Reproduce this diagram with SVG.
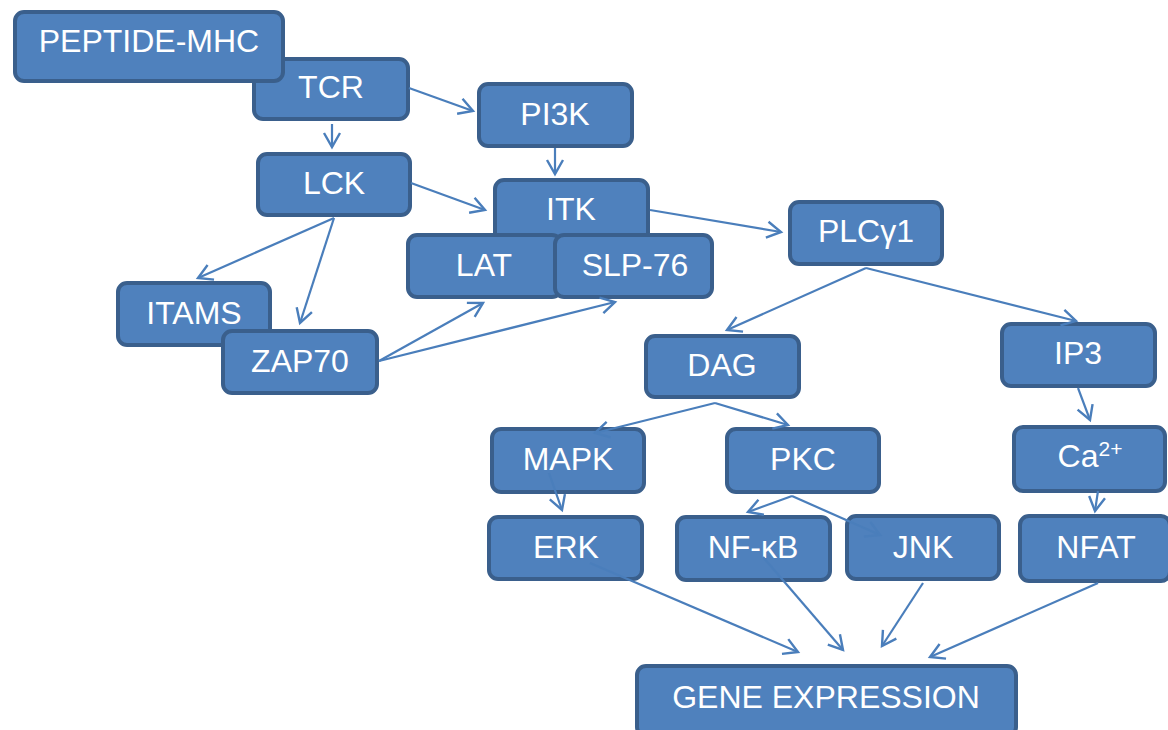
<svg xmlns="http://www.w3.org/2000/svg" width="1168" height="730" viewBox="0 0 1168 730">
<defs>
<style>
.n rect{fill:#4F81BD;stroke:#3A5F8C;stroke-width:4}
.n text{fill:#fff;font-family:"Liberation Sans",Arial,sans-serif;font-size:32px;text-anchor:middle}
.c line{stroke:#4A7EBB;stroke-width:2.2;fill:none;marker-end:url(#ah)}
</style>
<marker id="ah" markerUnits="userSpaceOnUse" markerWidth="22" markerHeight="22" viewBox="0 0 22 22" refX="16" refY="11" orient="auto">
<path d="M2,3 L16,11 L2,19" fill="none" stroke="#4A7EBB" stroke-width="2.4"/>
</marker>
</defs>
<rect width="1168" height="730" fill="#fff"/>
<g id="tcr" class="n"><rect x="254" y="59" width="154" height="60" rx="9"/><text x="331" y="98">TCR</text></g>
<g id="peptide-mhc" class="n"><rect x="15" y="12" width="268" height="69" rx="9"/><text x="149" y="52">PEPTIDE-MHC</text></g>
<g id="pi3k" class="n"><rect x="479" y="84" width="153" height="62" rx="9"/><text x="555" y="125">PI3K</text></g>
<g id="lck" class="n"><rect x="258" y="154" width="152" height="61" rx="9"/><text x="334" y="194">LCK</text></g>
<g id="itk" class="n"><rect x="495" y="180" width="153" height="63" rx="9"/><text x="571" y="220">ITK</text></g>
<g id="plcg1" class="n"><rect x="790" y="202" width="152" height="62" rx="9"/><text x="866" y="242">PLCγ1</text></g>
<g id="lat" class="n"><rect x="408" y="235" width="153" height="62" rx="9"/><text x="484" y="276">LAT</text></g>
<g id="slp-76" class="n"><rect x="555" y="235" width="157" height="62" rx="9"/><text x="635" y="276">SLP-76</text></g>
<g id="itams" class="n"><rect x="118" y="283" width="152" height="62" rx="9"/><text x="194" y="324">ITAMS</text></g>
<g id="zap70" class="n"><rect x="223" y="331" width="154" height="62" rx="9"/><text x="300" y="372">ZAP70</text></g>
<g id="dag" class="n"><rect x="646" y="336" width="153" height="61" rx="9"/><text x="722" y="376">DAG</text></g>
<g id="ip3" class="n"><rect x="1002" y="324" width="153" height="62" rx="9"/><text x="1078" y="364">IP3</text></g>
<g id="mapk" class="n"><rect x="492" y="429" width="152" height="63" rx="9"/><text x="568" y="470">MAPK</text></g>
<g id="pkc" class="n"><rect x="727" y="429" width="152" height="63" rx="9"/><text x="803" y="470">PKC</text></g>
<g id="ca" class="n"><rect x="1014" y="427" width="151" height="64" rx="9"/><text x="1090" y="467">Ca<tspan font-size="21" dy="-11">2+</tspan></text></g>
<g id="erk" class="n"><rect x="489" y="517" width="153" height="62" rx="9"/><text x="566" y="558">ERK</text></g>
<g id="nf-kb" class="n"><rect x="677" y="517" width="153" height="63" rx="9"/><text x="753" y="558">NF-κB</text></g>
<g id="jnk" class="n"><rect x="847" y="516" width="152" height="63" rx="9"/><text x="923" y="558">JNK</text></g>
<g id="nfat" class="n"><rect x="1020" y="516" width="150" height="65" rx="9"/><text x="1096" y="558">NFAT</text></g>
<g id="gene-expression" class="n"><rect x="637" y="666" width="379" height="70" rx="9"/><text x="826" y="708">GENE EXPRESSION</text></g>
<g id="connectors" class="c">
<line x1="332" y1="124" x2="332" y2="147"/>
<line x1="409" y1="88" x2="473" y2="111"/>
<line x1="555" y1="148" x2="555" y2="174"/>
<line x1="411" y1="183" x2="485" y2="210"/>
<line x1="650" y1="210" x2="781" y2="232"/>
<line x1="334" y1="218" x2="198" y2="278"/>
<line x1="334" y1="218" x2="300" y2="323"/>
<line x1="379" y1="361" x2="483" y2="303"/>
<line x1="379" y1="361" x2="615" y2="302"/>
<line x1="866" y1="268" x2="727" y2="330"/>
<line x1="866" y1="268" x2="1076" y2="321"/>
<line x1="715" y1="403" x2="595" y2="433"/>
<line x1="715" y1="403" x2="788" y2="425"/>
<line x1="549" y1="473" x2="562" y2="510"/>
<line x1="792" y1="496" x2="748" y2="512"/>
<line x1="792" y1="496" x2="880" y2="535"/>
<line x1="1078" y1="388" x2="1090" y2="420"/>
<line x1="1098" y1="491" x2="1095" y2="511"/>
<line x1="590" y1="563" x2="798" y2="652"/>
<line x1="763" y1="557" x2="843" y2="650"/>
<line x1="923" y1="583" x2="882" y2="646"/>
<line x1="1098" y1="583" x2="930" y2="657"/>
</g>
</svg>
